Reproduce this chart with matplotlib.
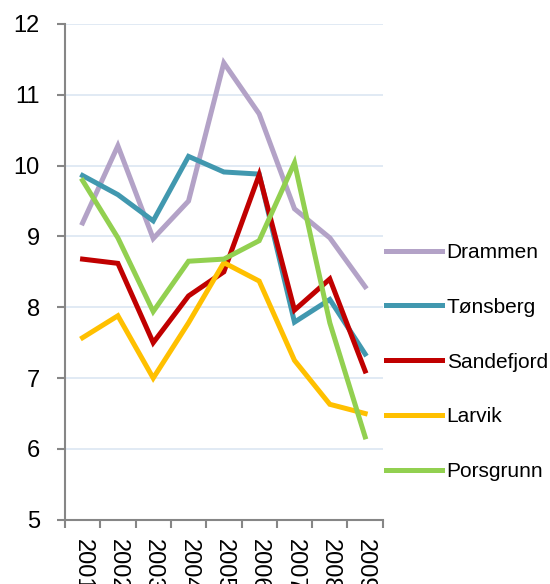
import numpy as np
import matplotlib as mpl
mpl.use('Agg')
import matplotlib.pyplot as plt

years = ["2001", "2002", "2003", "2004", "2005", "2006", "2007", "2008", "2009"]
names = ["Drammen", "Tønsberg", "Sandefjord", "Larvik", "Porsgrunn"]
drammen    = [9.19, 10.28, 8.97, 9.50, 11.45, 10.73, 9.39, 8.98, 8.29]
tonsberg   = [9.86, 9.59, 9.22, 10.13, 9.91, 9.88, 7.79, 8.11, 7.34]
sandefjord = [8.68, 8.62, 7.50, 8.16, 8.50, 9.87, 7.96, 8.40, 7.10]
larvik     = [7.57, 7.88, 7.00, 7.78, 8.63, 8.37, 7.25, 6.63, 6.50]
porsgrunn  = [9.79, 8.98, 7.94, 8.65, 8.68, 8.94, 10.04, 7.78, 6.17]
colors = ["#B3A2C7", "#4198AF", "#C00000", "#FFC000", "#92D050"]

mpl.rcParams['font.family'] = 'Liberation Sans'

fig = plt.figure(figsize=(5.5, 5.84), dpi=100)
ax = fig.add_axes([0.118, 0.110, 0.578, 0.849])

x = np.arange(len(years))
for vals, name, c in zip([drammen, tonsberg, sandefjord, larvik, porsgrunn], names, colors):
    ax.plot(x, vals, color=c, lw=3.6, label=name, solid_joinstyle='miter')

ax.set_ylim(5, 12)
ax.set_xlim(-0.5, len(years) - 0.5)
ax.set_yticks(range(5, 13))
ax.tick_params(axis='y', labelsize=17, length=6, width=1.5, color='#868686', direction='out', pad=12)
ax.set_xticks(x)
ax.set_xticklabels(years, rotation=270, fontsize=17, va='top', ha='center')
ax.tick_params(axis='x', which='major', length=0, pad=14)
ax.set_xticks(np.arange(-0.5, len(years)), minor=True)
ax.tick_params(axis='x', which='minor', length=6, width=1.5, color='#868686', direction='out')
ax.yaxis.grid(True, color='#DCE6F2', lw=1.2)
ax.set_axisbelow(True)
for s in ['top', 'right']:
    ax.spines[s].set_visible(False)
for s in ['left', 'bottom']:
    ax.spines[s].set_color('#868686')
    ax.spines[s].set_linewidth(1.5)

fig.legend(loc='center left', bbox_to_anchor=(0.687, 0.38), frameon=False, borderaxespad=0,
           fontsize=15, handlelength=2.7, labelspacing=1.72, handletextpad=0.2)

fig.savefig('out.png', dpi=100)
